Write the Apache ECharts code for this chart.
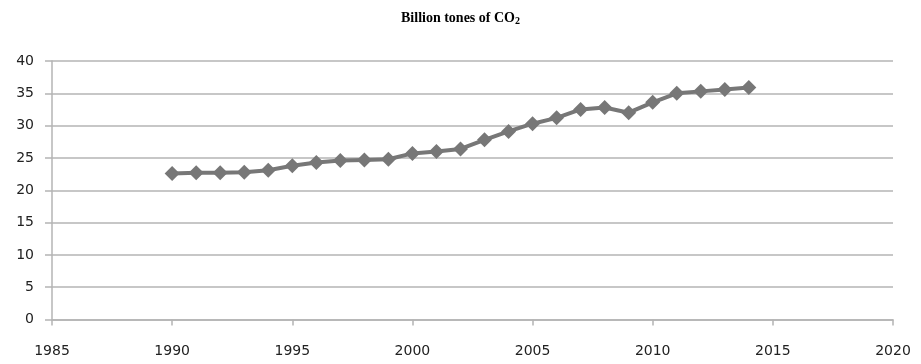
<!DOCTYPE html>
<html>
<head>
<meta charset="utf-8">
<script src="https://cdn.jsdelivr.net/npm/echarts@6/dist/echarts.min.js"></script>
<style>
  html, body { margin: 0; padding: 0; background: #fff; }
  #chart { width: 921px; height: 364px; }
</style>
</head>
<body>
<div id="chart"></div>
<script>
// Global CO2 emissions, billion tonnes per year
const years = [1990, 1991, 1992, 1993, 1994, 1995, 1996, 1997, 1998, 1999,
               2000, 2001, 2002, 2003, 2004, 2005, 2006, 2007, 2008, 2009,
               2010, 2011, 2012, 2013, 2014];
const emissions = [22.6, 22.7, 22.7, 22.8, 23.1, 23.8, 24.3, 24.6, 24.7, 24.8,
                   25.7, 26.0, 26.4, 27.8, 29.1, 30.3, 31.2, 32.5, 32.8, 32.0,
                   33.6, 35.0, 35.3, 35.6, 35.9];

const axisGray = '#b4b4b4';
const labelStyle = { fontFamily: 'DejaVu Sans', fontSize: 14, color: '#222' };

const chart = echarts.init(document.getElementById('chart'), null, { renderer: 'canvas' });
chart.setOption({
  animation: false,
  backgroundColor: '#fff',
  title: {
    text: '{b|Billion tones of CO}{s|2}',
    left: 'center',
    top: 5,
    textStyle: {
      rich: {
        b: { fontFamily: 'Liberation Serif', fontWeight: 'bold', fontSize: 14, color: '#000' },
        s: { fontFamily: 'Liberation Serif', fontWeight: 'bold', fontSize: 10, color: '#000', verticalAlign: 'bottom', padding: [6, 0, 0, 0] }
      }
    }
  },
  grid: { left: 52, right: 28, top: 61, bottom: 44.5 },
  xAxis: {
    type: 'value',
    min: 1985, max: 2020, interval: 5,
    axisLine: { show: true, onZero: false, lineStyle: { color: axisGray, width: 1.5 } },
    axisTick: { show: true, length: 6, lineStyle: { color: axisGray, width: 1.5 } },
    axisLabel: Object.assign({ margin: 25, formatter: v => String(v) }, labelStyle),
    splitLine: { show: false }
  },
  yAxis: {
    type: 'value',
    min: 0, max: 40, interval: 5,
    axisLine: { show: true, lineStyle: { color: axisGray, width: 1.5 } },
    axisTick: { show: true, length: 7, lineStyle: { color: axisGray, width: 1.5 } },
    axisLabel: Object.assign({ margin: 18 }, labelStyle),
    splitLine: { show: true, lineStyle: { color: axisGray, width: 1.5 } }
  },
  series: [{
    type: 'line',
    data: years.map((y, i) => [y, emissions[i]]),
    symbol: 'diamond',
    symbolSize: [15, 15],
    lineStyle: { color: '#777', width: 4 },
    itemStyle: { color: '#777' }
  }]
});
</script>
</body>
</html>
